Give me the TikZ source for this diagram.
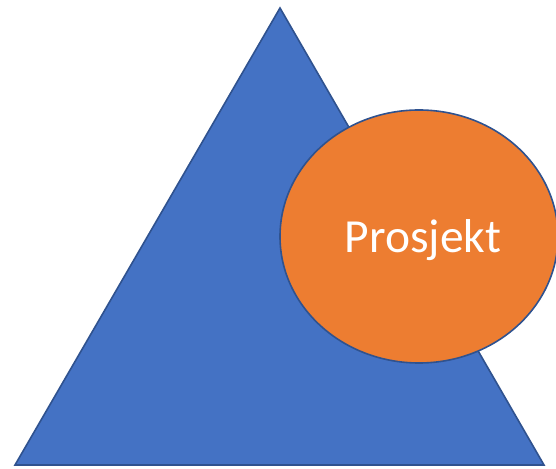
\documentclass[tikz,border=0pt]{standalone}
\usepackage{fontspec}
\usetikzlibrary{shapes.geometric}
\setmainfont{Carlito}
\definecolor{triblue}{HTML}{4472C4}
\definecolor{edgeblue}{HTML}{2F528F}
\definecolor{projorange}{HTML}{ED7D31}
\tikzset{
  shapeedge/.style={draw=edgeblue, line width=1.6pt, line join=miter},
}
\begin{document}
\begin{tikzpicture}[x=1pt,y=1pt]
\useasboundingbox (0,0) rectangle (556,468);
\clip (0,0) rectangle (556,468);
\coordinate (apex) at (280,460);
\coordinate (bl) at (15,3);
\coordinate (br) at (544,3);
\draw[shapeedge, fill=triblue] (apex) -- (br) -- (bl) -- cycle;
\node[shapeedge, fill=projorange, ellipse, minimum width=278pt, minimum height=253pt, inner sep=0pt] (proj) at (419,231.5) {};
\node[text=white, font=\fontsize{47.5}{55}\selectfont, anchor=base, inner sep=0pt] (label) at ([xshift=4pt,yshift=-16.5pt]proj.center) {Prosjekt};
\end{tikzpicture}
\end{document}
